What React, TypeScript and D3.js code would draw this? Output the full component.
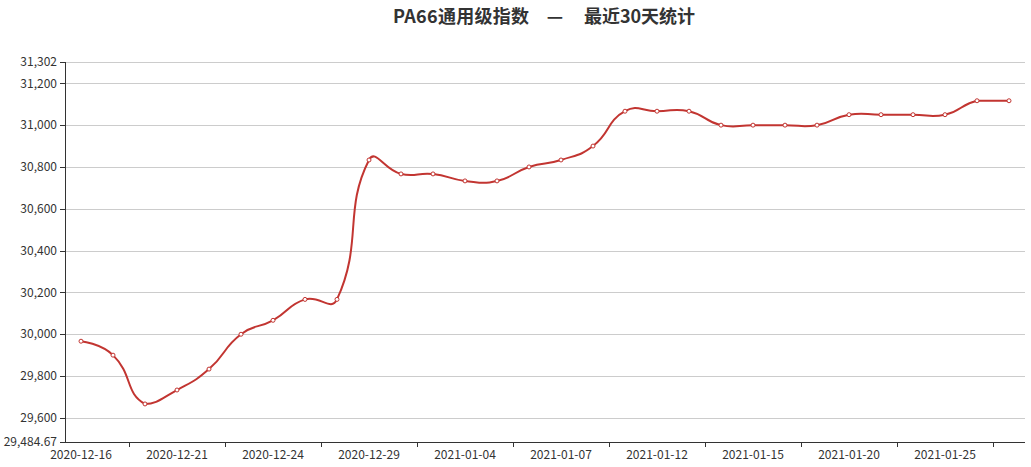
import React from "react";
import * as d3 from "d3";

const dates = [
  "2020-12-16", "2020-12-17", "2020-12-18", "2020-12-21", "2020-12-22", "2020-12-23",
  "2020-12-24", "2020-12-25", "2020-12-28", "2020-12-29", "2020-12-30", "2020-12-31",
  "2021-01-04", "2021-01-05", "2021-01-06", "2021-01-07", "2021-01-08", "2021-01-11",
  "2021-01-12", "2021-01-13", "2021-01-14", "2021-01-15", "2021-01-18", "2021-01-19",
  "2021-01-20", "2021-01-21", "2021-01-22", "2021-01-25", "2021-01-26", "2021-01-27",
];
const values = [
  29966.67, 29900, 29666.67, 29733.33, 29833.33, 30000, 30066.67, 30166.67, 30166.67, 30833.33,
  30766.67, 30766.67, 30733.33, 30733.33, 30800, 30833.33, 30900, 31066.67, 31066.67, 31066.67,
  31000, 31000, 31000, 31000, 31050, 31050, 31050, 31050, 31116.67, 31116.67,
];
const yMin = 29484.67;
const yMax = 31302;
const yTicks = [29484.67, 29600, 29800, 30000, 30200, 30400, 30600, 30800, 31000, 31200, 31302];
const titleParts = ["PA66通用级指数", "—", "最近30天统计"];

const W = 1031, H = 467;
const left = 65, right = 1025, top = 62, bottom = 442;
const RED = "#c23531";
const FONT = "'Noto Sans CJK SC', 'Noto Sans', sans-serif";

function echartsSmooth(pts: [number, number][], smooth = 0.5): string {
  const minX = d3.min(pts, (d) => d[0]) as number;
  const maxX = d3.max(pts, (d) => d[0]) as number;
  const minY = d3.min(pts, (d) => d[1]) as number;
  const maxY = d3.max(pts, (d) => d[1]) as number;
  const clamp = (c: [number, number]): [number, number] => [
    Math.min(maxX, Math.max(minX, c[0])),
    Math.min(maxY, Math.max(minY, c[1])),
  ];
  const cps: [number, number][] = [];
  const n = pts.length;
  for (let i = 0; i < n; i++) {
    const pt = pts[i];
    if (i === 0 || i === n - 1) {
      cps.push([pt[0], pt[1]]);
      continue;
    }
    const prev = pts[i - 1], next = pts[i + 1];
    const vx = (next[0] - prev[0]) * smooth;
    const vy = (next[1] - prev[1]) * smooth;
    let d0 = Math.hypot(pt[0] - prev[0], pt[1] - prev[1]);
    let d1 = Math.hypot(pt[0] - next[0], pt[1] - next[1]);
    const sum = d0 + d1;
    if (sum !== 0) { d0 /= sum; d1 /= sum; }
    cps.push(clamp([pt[0] - vx * d0, pt[1] - vy * d0]));
    cps.push(clamp([pt[0] + vx * d1, pt[1] + vy * d1]));
  }
  const p = d3.path();
  p.moveTo(pts[0][0], pts[0][1]);
  for (let i = 1; i < n; i++) {
    const c0 = cps[(i - 1) * 2];
    const c1 = cps[(i - 1) * 2 + 1];
    p.bezierCurveTo(c0[0], c0[1], c1[0], c1[1], pts[i][0], pts[i][1]);
  }
  return p.toString();
}

export default function App() {
  const x = d3.scaleBand<string>().domain(dates).range([left, right]).paddingInner(0).paddingOuter(0);
  const y = d3.scaleLinear().domain([yMin, yMax]).range([bottom, top]);
  const cx = (d: string) => (x(d) as number) + x.bandwidth() / 2;
  const pts: [number, number][] = dates.map((d, i) => [cx(d), y(values[i])]);
  const fmt = d3.format(",");
  const labelIdx = dates.map((_, i) => i).filter((i) => i % 3 === 0);
  const tickIdx = dates.map((_, i) => i).filter((i) => i % 3 === 1);

  return (
    <svg width={W} height={H} style={{ position: "absolute", left: 0, top: 0, background: "#fff" }} fontFamily={FONT}>
      <g fontSize={18} fontWeight="bold" fill="#333">
        <text x={529} y={23} textAnchor="end" textLength={136} lengthAdjust="spacing">{titleParts[0]}</text>
        <text x={555} y={23} textAnchor="middle">{titleParts[1]}</text>
        <text x={584} y={23} textAnchor="start" textLength={111} lengthAdjust="spacing">{titleParts[2]}</text>
      </g>
      {yTicks.map((t) => (
        <g key={t}>
          {t !== yMin && (
            <line x1={left} x2={right} y1={Math.round(y(t)) + 0.5} y2={Math.round(y(t)) + 0.5} stroke="#ccc" />
          )}
          <line x1={left - 5} x2={left} y1={Math.round(y(t)) + 0.5} y2={Math.round(y(t)) + 0.5} stroke="#333" />
          <text x={left - 8} y={y(t)} dy="0.35em" textAnchor="end" fontSize={12} fill="#333">{fmt(t)}</text>
        </g>
      ))}
      <line x1={left + 0.5} x2={left + 0.5} y1={top} y2={bottom} stroke="#333" />
      <line x1={left} x2={right} y1={bottom + 0.5} y2={bottom + 0.5} stroke="#333" />
      {tickIdx.map((i) => {
        const tx = Math.round((x(dates[i]) as number) + x.bandwidth()) + 0.5;
        return <line key={i} x1={tx} x2={tx} y1={bottom} y2={bottom + 5} stroke="#333" />;
      })}
      {labelIdx.map((i) => (
        <text key={i} x={cx(dates[i])} y={bottom + 17} textAnchor="middle" fontSize={12} fill="#333">{dates[i]}</text>
      ))}
      <path d={echartsSmooth(pts)} fill="none" stroke={RED} strokeWidth={2} />
      {pts.map(([px, py], i) => (
        <circle key={i} cx={px} cy={py} r={2} fill="#fff" stroke={RED} strokeWidth={1} />
      ))}
    </svg>
  );
}
